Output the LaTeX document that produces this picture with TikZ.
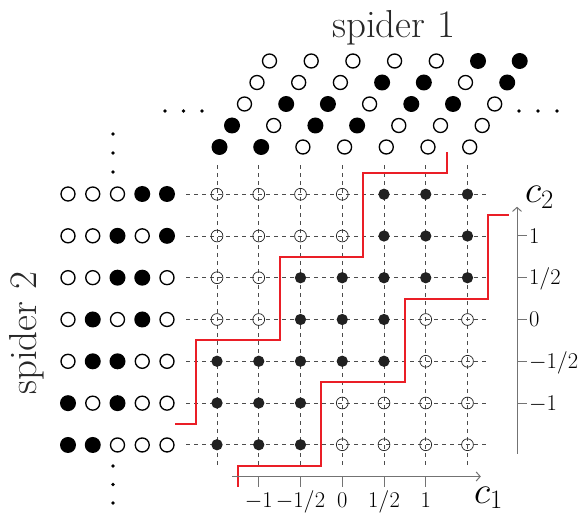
\RequirePackage{fix-cm}
\documentclass[tikz,border=0pt]{standalone}
\usetikzlibrary{arrows.meta}
\definecolor{redline}{RGB}{234,30,38}
\definecolor{txt}{RGB}{40,40,40}
\begin{document}
\begin{tikzpicture}[x=1pt,y=-1pt,
  sp1/.style={circle,fill=black,minimum size=16pt,inner sep=0pt},
  sp0/.style={circle,draw=black,line width=1.35pt,minimum size=14pt,inner sep=0pt},
  gd1/.style={circle,fill=black!87,minimum size=11.3pt,inner sep=0pt},
  gd0/.style={circle,draw=black!85,line width=0.75pt,minimum size=11.8pt,inner sep=0pt},
  gridline/.style={black!70,line width=0.8pt,dash pattern=on 4pt off 4pt},
  axis/.style={black!55,line width=1pt},
  stair/.style={redline,line width=2pt},
  dotsmall/.style={circle,fill=black,minimum size=3.6pt,inner sep=0pt},
  ticklab/.style={font=\fontsize{22.5}{27}\selectfont,inner sep=0pt},
  biglab/.style={font=\fontsize{39}{46}\selectfont,text=txt,inner sep=0pt},
  axlab/.style={font=\fontsize{38}{44}\selectfont,inner sep=0pt},
]
\useasboundingbox (0,0) rectangle (581,513);

% spider 1
\foreach \row [count=\r from 0] in {{1,1,0,0,0,0,0},{1,0,1,1,0,0,0},{0,1,1,0,1,1,0},{0,0,0,1,1,0,1},{0,0,0,0,0,1,1}}{
  \foreach \v [count=\i from 0] in \row {
    \node[sp\v] (s1-\r-\i) at ({219.5+41.7*\i+12.5*\r},{147-21.5*\r}) {};
  }
}
\node[biglab,anchor=base west] (t1) at (332,38) {spider 1};

% ellipsis dots
\foreach \x [count=\k] in {165,183.5,202} \node[dotsmall] (l\k) at (\x,111) {};
\foreach \x [count=\k] in {519,538,557} \node[dotsmall] (r\k) at (\x,111) {};
\foreach \y [count=\k] in {134,153,172} \node[dotsmall] (u\k) at (113,\y) {};
\foreach \y [count=\k] in {466,484.5,503} \node[dotsmall] (d\k) at (113,\y) {};

% spider 2
\foreach \row [count=\j from 0] in {{0,0,0,1,1},{0,0,1,0,1},{0,0,1,1,0},{0,1,0,1,0},{0,1,1,0,0},{1,0,1,0,0},{1,1,0,0,0}}{
  \foreach \v [count=\k from 0] in \row {
    \node[sp\v] (s2-\j-\k) at ({68+24.75*\k},{194+41.83*\j}) {};
  }
}
\node[biglab,anchor=base west,rotate=90] (t2) at (36,395) {spider 2};

% grid
\begin{scope}[shift={(342.25,319.5)},x=83.5pt,y=83.5pt]
  \foreach \c in {-1.5,-1,-0.5,0,0.5,1,1.5}{
    \draw[gridline] (-1.87,\c) -- (1.75,\c);
    \draw[gridline] (\c,-1.74) -- (\c,1.88);
  }
  \foreach \row [count=\j from 0] in {{0,0,0,0,1,1,1},{0,0,0,0,1,1,1},{0,0,1,1,1,1,1},{0,0,1,1,1,0,0},{1,1,1,1,1,0,0},{1,1,1,0,0,0,0},{1,1,1,0,0,0,0}}{
    \foreach \v [count=\i from 0] in \row {
      \node[gd\v] (g-\i-\j) at ({-1.5+0.5*\i},{1.5-0.5*\j}) {};
    }
  }
  % staircases
  \draw[stair] (-2,-1.25) -- (-1.75,-1.25) -- (-1.75,-0.25) -- (-0.75,-0.25) -- (-0.75,0.75) -- (0.25,0.75) -- (0.25,1.75) -- (1.25,1.75) -- (1.25,2);
  \draw[stair] (-1.25,-2) -- (-1.25,-1.75) -- (-0.25,-1.75) -- (-0.25,-0.75) -- (0.75,-0.75) -- (0.75,0.25) -- (1.75,0.25) -- (1.75,1.25) -- (2,1.25);
  % axes
  \coordinate (xa0) at (-1.32,-1.88);
  \coordinate (xa1) at (1.66,-1.88);
  \coordinate (ya0) at (2.093,-1.61);
  \coordinate (ya1) at (2.093,1.35);
  \draw[axis,-{Straight Barb[length=4pt,width=9pt]}] (xa0) -- (xa1);
  \draw[axis,-{Straight Barb[length=4pt,width=9pt]}] (ya0) -- (ya1);
  \foreach \c/\l [count=\k] in {-1/{-1},-0.5/{-1/2},0/{0},0.5/{1/2},1/{1}}{
    \draw[axis] (\c,-1.88) -- (\c,-2.0);
    \node[ticklab,anchor=base] (xl\k) at (\c,-2.255) {$\l$};
  }
  \foreach \c/\l [count=\k] in {-1/{-1},-0.5/{-1/2},0/{0},0.5/{1/2},1/{1}}{
    \draw[axis] (2.093,\c) -- (2.213,\c);
    \node[ticklab,anchor=base west,yshift=-7.2pt] (yl\k) at (2.235,\c) {$\l$};
  }
\end{scope}
\node[axlab,anchor=base west] (c1) at (474,503) {$c_1$};
\node[axlab,anchor=base west] (c2) at (525,203) {$c_2$};
\end{tikzpicture}
\end{document}
